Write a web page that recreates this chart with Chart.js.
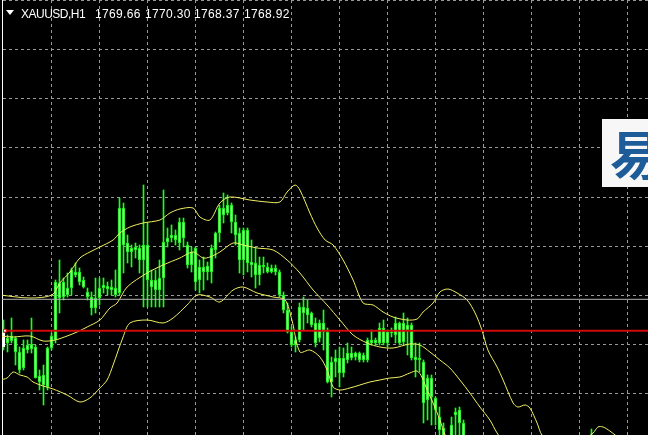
<!DOCTYPE html>
<html>
<head>
<meta charset="utf-8">
<script src="https://cdn.jsdelivr.net/npm/chart.js@4.4.1/dist/chart.umd.min.js"></script>
<style>
  html, body { margin: 0; padding: 0; background: #000; overflow: hidden; }
  #wrap { position: relative; width: 648px; height: 435px; }
  canvas { display: block; }
  #hdr { position: absolute; left: 0; top: 0; width: 648px; height: 20px; color: #fff;
         font: 12px/12px "Liberation Sans", Arial, sans-serif; white-space: pre; }
  #hdr span { position: absolute; top: 8px; letter-spacing: 0.35px; }
  #hdr span.sym { letter-spacing: -0.5px; }
  #tri { position: absolute; left: 6px; top: 10px; width: 0; height: 0;
         border-left: 4px solid transparent; border-right: 4px solid transparent; border-top: 5px solid #fff; }
  #logo { position: absolute; left: 602px; top: 119px; width: 46px; height: 68px; background: #f7f7f7; overflow: hidden; }
  #logo span { position: absolute; left: 8px; top: 4px; font: 700 52px/60px "Noto Sans CJK SC", sans-serif; color: #1d5c98; }
</style>
</head>
<body>
<div id="wrap">
  <canvas id="chart" width="648" height="435"></canvas>
  <div id="hdr"><div id="tri"></div><span class="sym" style="left:21px">XAUUSD,H1</span><span style="left:95px">1769.66</span><span style="left:145px">1770.30</span><span style="left:194px">1768.37</span><span style="left:244px">1768.92</span></div>
  <div id="logo"><span>易</span></div>
</div>
<script>
// XAUUSD H1 bars (index 0 = leftmost visible bar)
const opens  = [1796.7,1795.7,1796.4,1796.2,1793.0,1793.2,1795.0,1795.6,1795.3,1792.4,1791.5,1791.3,1795.2,1796.0,1800.2,1801.8,1800.5,1801.2,1802.8,1802.8,
                1802.0,1800.8,1800.3,1799.2,1800.2,1801.2,1801.4,1801.3,1801.2,1800.7,1809.2,1805.7,1804.8,1805.3,1805.2,1804.0,1805.5,1802.0,1801.0,1801.0,
                1802.2,1805.8,1806.2,1806.5,1805.7,1807.8,1805.5,1803.5,1805.2,1802.0,1803.3,1802.8,1802.8,1805.0,1806.7,1809.2,1808.7,1809.5,1807.8,1806.7,
                1804.0,1807.0,1803.8,1803.7,1802.5,1803.5,1803.3,1802.8,1803.2,1802.8,1800.5,1799.0,1796.8,1796.0,1796.0,1799.3,1799.2,1798.7,1797.7,1796.2,
                1797.7,1796.8,1791.8,1793.8,1794.2,1792.7,1794.0,1794.7,1794.3,1794.7,1794.0,1794.0,1796.0,1795.7,1795.7,1797.2,1795.7,1796.8,1796.5,1797.7,
                1795.8,1797.5,1797.5,1794.3,1794.0,1793.8,1790.0,1792.2,1790.2,1788.3,1787.2,1786.0,1786.0,1788.5,1789.0,1787.7];
const highs  = [1798.0,1796.5,1798.2,1796.3,1795.3,1796.0,1796.0,1798.2,1795.5,1793.0,1793.5,1795.3,1796.7,1802.0,1804.0,1802.2,1802.7,1803.2,1803.7,1803.2,
                1802.3,1801.2,1800.8,1802.2,1802.2,1802.2,1801.8,1802.0,1803.0,1810.2,1809.7,1806.5,1805.5,1805.7,1805.5,1811.5,1807.7,1803.0,1803.0,1804.0,
                1811.0,1807.2,1807.5,1807.0,1808.2,1808.2,1805.8,1805.3,1805.3,1804.0,1804.3,1803.8,1805.5,1806.8,1809.5,1810.7,1810.5,1809.7,1808.5,1807.2,
                1807.2,1807.2,1806.0,1805.2,1804.3,1804.3,1803.7,1803.5,1803.5,1803.0,1800.8,1799.7,1797.3,1796.3,1799.7,1800.3,1800.0,1798.8,1798.2,1798.0,
                1799.0,1797.2,1794.3,1795.0,1795.3,1795.2,1795.7,1795.3,1794.8,1794.8,1794.7,1796.2,1797.0,1796.2,1797.7,1798.0,1797.0,1797.2,1798.3,1797.8,
                1798.7,1798.2,1797.7,1795.7,1795.7,1794.0,1792.5,1792.5,1790.3,1789.3,1787.7,1786.4,1788.3,1789.2,1789.3,1788.0];
const lows   = [1795.0,1794.8,1795.7,1793.5,1792.7,1793.0,1794.7,1794.7,1792.2,1791.0,1789.5,1791.0,1795.0,1795.7,1798.7,1800.0,1800.3,1800.5,1802.3,1801.5,
                1801.2,1800.0,1798.5,1798.7,1799.5,1800.7,1800.5,1800.5,1800.3,1800.5,1802.7,1803.7,1803.3,1804.2,1802.7,1799.3,1799.3,1799.3,1799.3,1799.3,
                1799.3,1805.3,1805.8,1805.5,1805.0,1805.3,1803.2,1802.8,1801.0,1800.7,1801.0,1802.0,1801.7,1804.2,1805.8,1807.7,1808.5,1806.7,1805.5,1802.7,
                1802.5,1802.8,1802.3,1801.2,1801.5,1802.7,1802.7,1802.7,1802.5,1800.3,1798.7,1796.7,1795.3,1794.8,1795.8,1797.0,1797.7,1797.3,1795.3,1795.8,
                1795.0,1791.7,1790.3,1792.3,1791.3,1792.3,1793.7,1794.0,1794.0,1793.8,1793.8,1793.8,1795.5,1795.5,1795.5,1795.5,1795.3,1796.3,1795.7,1795.5,
                1795.5,1794.5,1794.0,1792.3,1792.8,1787.7,1788.0,1787.5,1787.5,1786.5,1786.0,1785.0,1786.0,1786.0,1786.0,1785.5];
const closes = [1795.3,1796.2,1795.9,1794.8,1794.8,1795.2,1795.5,1795.1,1792.2,1791.8,1792.5,1795.2,1796.4,1801.8,1801.7,1800.3,1801.2,1803.0,1802.5,1801.8,
                1801.3,1800.3,1799.2,1800.2,1801.2,1801.5,1801.1,1801.0,1800.5,1809.2,1805.5,1804.8,1805.2,1805.0,1804.0,1805.5,1802.0,1801.3,1802.0,1802.2,
                1805.8,1806.2,1806.5,1806.0,1807.8,1806.2,1803.5,1804.8,1801.8,1803.3,1802.8,1803.4,1805.2,1806.7,1809.2,1808.5,1809.5,1807.8,1806.5,1804.0,
                1807.0,1803.7,1803.5,1802.5,1803.5,1803.3,1802.8,1803.2,1802.8,1800.5,1799.0,1796.8,1795.5,1795.5,1799.3,1798.7,1798.5,1797.5,1795.7,1797.7,
                1796.8,1791.8,1793.8,1794.2,1792.7,1794.2,1794.7,1794.2,1794.7,1794.0,1794.5,1796.0,1795.7,1796.0,1797.2,1795.7,1796.8,1796.7,1797.7,1795.7,
                1797.7,1797.0,1794.2,1794.0,1794.2,1789.7,1792.2,1790.3,1789.0,1787.0,1786.0,1785.0,1787.5,1788.8,1787.7,1785.5];

// the one later bar whose wick pokes back into view near the right edge
const lateBar   = 147;
const lateOpen  = 1784.2;
const lateHigh  = 1787.1;
const lateLow   = 1783.0;
const lateClose = 1785.6;

// Bollinger bands (20, 2): [bar position, price]
const bbUpper = [[-0.9,1800.5],[6.6,1800.2],[12.1,1800.5],[14.1,1801.7],[16.6,1802.8],[19.1,1804.2],[21.6,1804.8],[24.1,1805.3],[27.4,1806.0],[29.1,1806.7],
                 [31.6,1807.3],[34.9,1807.7],[39.1,1808.0],[41.6,1808.7],[44.1,1809.1],[47.4,1809.2],[49.1,1808.3],[51.6,1808.0],[54.1,1809.7],[56.6,1810.3],
                 [61.6,1810.0],[65.9,1809.8],[69.1,1809.8],[70.9,1810.8],[72.9,1811.5],[74.1,1811.0],[76.6,1808.7],[78.4,1807.2],[80.4,1806.0],[82.4,1805.5],
                 [84.9,1804.0],[87.4,1802.0],[89.9,1799.7],[92.4,1799.5],[94.9,1798.8],[97.4,1798.3],[100.9,1798.0],[103.4,1798.1],[104.9,1798.8],[107.4,1799.7],
                 [109.1,1800.8],[111.1,1801.1],[113.4,1800.7],[115.9,1800.0],[117.9,1798.7],[119.6,1797.0],[121.1,1795.0],[123.4,1793.3],[124.9,1792.0],[127.4,1789.7],
                 [128.6,1789.3],[130.4,1789.5],[131.6,1789.2],[133.4,1787.7],[134.6,1786.5],[137.9,1785.2],[142.9,1785.5],[147.4,1786.7],[148.6,1787.3],[149.9,1787.3],
                 [151.6,1786.9],[152.9,1786.5],[156.6,1785.5],[161.1,1785.0]];
const bbMiddle = [[-0.9,1796.4],[2.4,1796.3],[6.6,1796.4],[9.9,1795.9],[12.9,1796.0],[15.9,1796.4],[18.4,1796.8],[20.9,1797.3],[24.1,1798.0],[26.6,1799.2],
                  [28.4,1799.7],[30.9,1801.3],[35.9,1802.7],[39.9,1803.5],[44.1,1804.2],[47.4,1804.8],[49.9,1804.2],[51.6,1804.3],[54.1,1804.8],[57.4,1805.7],
                  [59.9,1805.5],[63.4,1805.2],[67.4,1805.0],[70.9,1804.0],[74.1,1802.7],[77.4,1801.0],[80.9,1799.5],[84.1,1798.0],[87.4,1796.5],[90.9,1795.7],
                  [94.1,1795.3],[97.4,1795.2],[101.6,1795.6],[104.1,1795.5],[106.6,1794.8],[109.1,1794.0],[111.6,1793.2],[114.1,1792.0],[116.6,1790.7],[119.1,1789.3],
                  [121.6,1788.0],[123.4,1786.7],[126.6,1785.0],[129.1,1784.5]];
const bbLower = [[-0.9,1792.0],[0.9,1792.2],[2.4,1792.8],[4.1,1792.5],[5.9,1792.3],[7.4,1791.8],[9.9,1791.4],[12.4,1791.1],[15.9,1790.5],[19.1,1789.8],
                 [21.6,1790.2],[24.1,1791.2],[25.9,1792.0],[27.4,1793.5],[29.9,1796.3],[31.6,1797.7],[35.9,1798.0],[39.9,1797.7],[42.4,1798.2],[45.9,1799.5],
                 [48.4,1800.5],[51.6,1800.3],[54.1,1799.8],[57.4,1801.0],[59.9,1801.3],[63.4,1800.7],[67.4,1800.3],[70.4,1800.0],[72.1,1798.0],[74.1,1794.8],
                 [76.6,1795.0],[79.1,1794.3],[80.9,1793.0],[82.4,1791.3],[84.1,1791.0],[86.6,1791.2],[89.1,1791.5],[91.6,1791.8],[94.1,1792.0],[96.6,1792.2],
                 [99.1,1792.3],[101.6,1792.7],[103.4,1792.9],[104.6,1792.3],[105.9,1791.0],[107.4,1789.7],[109.1,1788.0],[110.4,1786.5],[112.9,1784.5]];

// horizontal levels
const greyLevel = 1800.07;
const redLevel = 1796.93;

// grid
const gridBars = [12, 24, 36, 48, 60, 72, 84, 96, 108, 120, 132, 144, 156];
const gridPrices = [1829.94, 1825.03, 1820.12, 1815.21, 1810.30, 1805.39, 1800.48, 1795.57, 1790.67];

const gridColor = '#9a9a9a';
const green = '#19ff19';

const wickData = highs.map((h, i) => ({ x: i, y: [lows[i], h] }));
wickData.push({ x: lateBar, y: [lateLow, lateHigh] });
const bodyData = opens.map((o, i) => ({ x: i, y: [Math.min(o, closes[i]), Math.max(o, closes[i])] }));
bodyData.push({ x: lateBar, y: [Math.min(lateOpen, lateClose), Math.max(lateOpen, lateClose)] });
const toXY = arr => arr.map(p => ({ x: p[0], y: p[1] }));

const lineDefaults = { type: 'line', borderWidth: 1, pointRadius: 0, tension: 0.3, fill: false };

// keep the axes from taking any room so the plot fills the window
const noRoom = s => {
    s.paddingLeft = 0; s.paddingRight = 0; s.paddingTop = 0; s.paddingBottom = 0;
    if (s.isHorizontal()) s.height = 0; else s.width = 0;
};

new Chart(document.getElementById('chart'), {
    type: 'bar',
    data: {
        datasets: [
            { label: 'wicks', data: wickData, backgroundColor: green, barThickness: 1, grouped: false, order: 5 },
            {
                label: 'bodies', data: bodyData, barThickness: 3, grouped: false, order: 4,
                backgroundColor: ctx => ctx.dataIndex === 0 ? '#ffffff' : '#8cff8c',
                borderColor: ctx => ctx.dataIndex === 0 ? '#ffffff' : '#14e614',
                borderWidth: 1, borderSkipped: false
            },
            { ...lineDefaults, label: 'Upper', data: toXY(bbUpper), borderColor: '#f0f064', order: 3 },
            { ...lineDefaults, label: 'Middle', data: toXY(bbMiddle), borderColor: '#f0f064', order: 3 },
            { ...lineDefaults, label: 'Lower', data: toXY(bbLower), borderColor: '#f0f064', order: 3 },
            { ...lineDefaults, label: 'grey', tension: 0, data: [{ x: -1, y: greyLevel }, { x: 162, y: greyLevel }],
              borderColor: '#b4b4b4', order: 2 },
            { ...lineDefaults, label: 'red', tension: 0, data: [{ x: 0.35, y: redLevel }, { x: 162, y: redLevel }],
              borderColor: '#d20a0a', borderWidth: 2, order: 1,
              pointRadius: ctx => ctx.dataIndex === 0 ? 2 : 0, pointStyle: 'rect',
              pointBackgroundColor: '#ffffff', pointBorderColor: '#e01010', pointBorderWidth: 1 }
        ]
    },
    options: {
        responsive: false,
        animation: false,
        layout: { padding: { left: 2, right: 0, top: 0, bottom: 0 }, autoPadding: false },
        plugins: { legend: { display: false }, tooltip: { enabled: false } },
        scales: {
            x: {
                type: 'linear', min: -0.375, max: 161.125, offset: false,
                afterBuildTicks: s => { s.ticks = gridBars.map(v => ({ value: v })); },
                afterFit: noRoom,
                ticks: { display: false },
                grid: { color: gridColor, drawTicks: false, offset: false, lineWidth: 1 },
                border: { display: false, dash: [3, 3] }
            },
            y: {
                type: 'linear', min: 1786.5, max: 1830,
                afterBuildTicks: s => { s.ticks = gridPrices.map(v => ({ value: v })); },
                afterFit: noRoom,
                ticks: { display: false },
                grid: { color: gridColor, drawTicks: false, lineWidth: 1 },
                border: { display: true, color: '#ffffff', width: 1, dash: [3, 3] }
            }
        }
    }
});
</script>
</body>
</html>
